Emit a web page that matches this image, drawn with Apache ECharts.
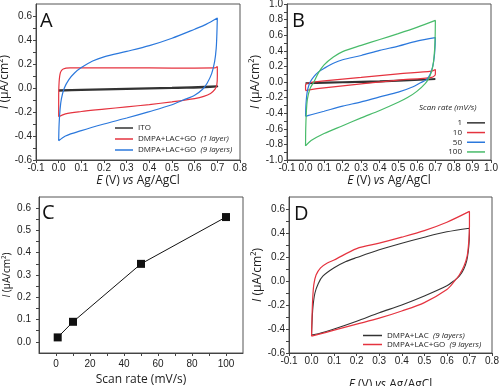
<!DOCTYPE html>
<html><head><meta charset="utf-8">
<script src="https://cdn.jsdelivr.net/npm/echarts@6/dist/echarts.min.js"></script>
<style>html,body{margin:0;padding:0;background:#fff}#c{width:500px;height:386px}</style>
</head><body><div id="c"></div>
<script>
// ---------- Panel A : CVs (current density vs potential) ----------
const A_ITO = [[0,-0.018],[0.1,-0.013],[0.3,-0.004],[0.5,0.004],[0.7,0.016],[0.7,0.009],[0.5,-0.002],[0.3,-0.01],[0.1,-0.018],[0,-0.024]];
const A_GO1 = [[0,-0.24],[0,-0.1],[0.002,0.05],[0.008,0.13],[0.02,0.158],[0.05,0.167],[0.2,0.168],[0.4,0.167],[0.6,0.166],[0.69,0.167],[0.7,0.18],
  [0.7,0.1],[0.698,0.03],[0.69,-0.01],[0.67,-0.045],[0.64,-0.07],[0.6,-0.088],[0.5,-0.115],[0.4,-0.138],[0.3,-0.157],[0.2,-0.176],[0.1,-0.196],[0.03,-0.215],[0,-0.24]];
const A_GO9 = [[0,-0.44],[0.002,-0.3],[0.006,-0.18],[0.012,-0.09],[0.025,0],[0.045,0.07],[0.07,0.125],[0.1,0.17],[0.15,0.225],[0.2,0.26],[0.3,0.305],[0.4,0.353],[0.5,0.415],[0.6,0.49],[0.65,0.53],[0.7,0.583],
  [0.698,0.45],[0.695,0.33],[0.688,0.22],[0.675,0.12],[0.655,0.04],[0.635,-0.01],[0.6,-0.06],[0.55,-0.1],[0.5,-0.14],[0.4,-0.197],[0.3,-0.25],[0.2,-0.3],[0.1,-0.355],[0.03,-0.4],[0,-0.44]];
const A_names = ['ITO', 'DMPA+LAC+GO (1 layer)', 'DMPA+LAC+GO (9 layers)'];

// ---------- Panel B : scan rates ----------
const B_rates = ['1', '10', '50', '100'];
const B_1 = [[0,-0.012],[0.2,0.0],[0.4,0.012],[0.7,0.035],[0.7,0.027],[0.4,0.004],[0.2,-0.007],[0,-0.02]];
const B_10 = [[0,-0.11],[0,-0.04],[0.02,-0.01],[0.1,0.015],[0.3,0.06],[0.5,0.105],[0.68,0.14],[0.7,0.16],
  [0.7,0.1],[0.68,0.06],[0.5,0.025],[0.3,-0.025],[0.1,-0.075],[0.02,-0.1],[0,-0.11]];
const B_50 = [[0,-0.44],[0.002,-0.3],[0.006,-0.18],[0.012,-0.09],[0.025,0],[0.045,0.07],[0.07,0.13],[0.1,0.175],[0.15,0.24],[0.2,0.285],[0.3,0.34],[0.4,0.405],[0.5,0.46],[0.6,0.525],[0.7,0.57],
  [0.698,0.44],[0.694,0.32],[0.686,0.2],[0.672,0.1],[0.652,0.03],[0.62,-0.01],[0.58,-0.06],[0.5,-0.13],[0.4,-0.19],[0.3,-0.255],[0.2,-0.31],[0.1,-0.375],[0.03,-0.42],[0,-0.44]];
const B_100 = [[0,-0.82],[0.001,-0.6],[0.004,-0.4],[0.01,-0.22],[0.025,-0.08],[0.045,0.0],[0.07,0.12],[0.1,0.22],[0.15,0.32],[0.2,0.39],[0.3,0.47],[0.4,0.545],[0.5,0.62],[0.6,0.7],[0.7,0.79],
  [0.699,0.6],[0.696,0.42],[0.69,0.26],[0.68,0.14],[0.665,0.05],[0.645,-0.02],[0.6,-0.12],[0.55,-0.2],[0.5,-0.26],[0.4,-0.365],[0.3,-0.46],[0.2,-0.56],[0.1,-0.66],[0.03,-0.75],[0,-0.82]];

// ---------- Panel C : peak current vs scan rate ----------
const C_scanRate = [1, 10, 50, 100];
const C_current = [0.02, 0.09, 0.35, 0.56];

// ---------- Panel D ----------
const D_LAC = [[0,-0.45],[0.002,-0.35],[0.006,-0.22],[0.015,-0.1],[0.03,-0.02],[0.05,0.04],[0.1,0.11],[0.15,0.16],[0.2,0.195],[0.3,0.26],[0.4,0.315],[0.5,0.365],[0.6,0.41],[0.7,0.44],
  [0.699,0.34],[0.695,0.25],[0.688,0.17],[0.675,0.1],[0.655,0.04],[0.63,0.0],[0.6,-0.04],[0.5,-0.125],[0.4,-0.2],[0.3,-0.265],[0.2,-0.335],[0.1,-0.4],[0.03,-0.44],[0,-0.45]];
const D_GO = [[0,-0.46],[0.002,-0.3],[0.005,-0.15],[0.01,-0.03],[0.02,0.05],[0.04,0.11],[0.07,0.15],[0.1,0.175],[0.2,0.27],[0.3,0.315],[0.4,0.365],[0.5,0.42],[0.6,0.49],[0.7,0.58],
  [0.7,0.45],[0.697,0.33],[0.69,0.21],[0.675,0.12],[0.655,0.05],[0.63,-0.01],[0.6,-0.07],[0.5,-0.18],[0.4,-0.25],[0.3,-0.31],[0.2,-0.36],[0.1,-0.41],[0.03,-0.445],[0,-0.46]];
const D_names = ['DMPA+LAC (9 layers)', 'DMPA+LAC+GO (9 layers)'];

// ---------- tick values ----------
const E_ticksA = [-0.1, 0, 0.1, 0.2, 0.3, 0.4, 0.5, 0.6, 0.7, 0.8];
const E_ticksB = [-0.1, 0, 0.1, 0.2, 0.3, 0.4, 0.5, 0.6, 0.7, 0.8, 0.9, 1.0];
const I_labelsAD = [-0.6, -0.4, -0.2, 0, 0.2, 0.4, 0.6];
const I_ticksAD = [-0.6, -0.5, -0.4, -0.3, -0.2, -0.1, 0, 0.1, 0.2, 0.3, 0.4, 0.5, 0.6];
const I_labelsB = [-1.0, -0.8, -0.6, -0.4, -0.2, 0, 0.2, 0.4, 0.6, 0.8, 1.0];
const I_ticksB = [-1.0, -0.9, -0.8, -0.7, -0.6, -0.5, -0.4, -0.3, -0.2, -0.1, 0, 0.1, 0.2, 0.3, 0.4, 0.5, 0.6, 0.7, 0.8, 0.9, 1.0];
const C_xLabels = [0, 20, 40, 60, 80, 100];
const C_xTicks = [0, 10, 20, 30, 40, 50, 60, 70, 80, 90, 100];
const C_yLabels = [0, 0.1, 0.2, 0.3, 0.4, 0.5, 0.6];
const C_yTicks = [0, 0.05, 0.1, 0.15, 0.2, 0.25, 0.3, 0.35, 0.4, 0.45, 0.5, 0.55, 0.6];

// ---------- styling ----------
const RED = '#e5333f', BLUE = '#2b78dc', GREEN = '#48bb6a', BLACK = '#333333';
const labelFont = 'Liberation Sans', textFont = 'Open Sans';

function legendLabel(s) {
  const m = s.match(/^(.*?) (\(.*\))$/);
  return m ? m[1] + '  {i|' + m[2] + '}' : s;
}
const labelMap = {
  A0: legendLabel(A_names[0]), A1: legendLabel(A_names[1]), A2: legendLabel(A_names[2]),
  B0: B_rates[0], B1: B_rates[1], B2: B_rates[2], B3: B_rates[3],
  D0: legendLabel(D_names[0]), D1: legendLabel(D_names[1])
};

const fmt1 = v => (Math.abs(v) < 1e-9 ? '0.0' : v.toFixed(1));
const axisLineStyle = { onZero: false, lineStyle: { color: '#444', width: 1 } };

function richName(fs) {
  return { fontSize: fs, fontFamily: textFont, color: '#222', rich: { i: { fontStyle: 'italic', fontSize: fs, fontFamily: textFont, color: '#222' } } };
}
function xAxisE(grid, max, gap, ticks) {
  return {
    gridIndex: grid, type: 'value', min: -0.1, max: max,
    name: '{i|E} (V) {i|vs} Ag/AgCl', nameLocation: 'middle', nameGap: gap, nameTextStyle: richName(12),
    axisLine: axisLineStyle,
    axisTick: { length: 3, lineStyle: { color: '#444' }, customValues: ticks },
    splitLine: { show: false },
    axisLabel: { fontSize: 10, fontFamily: labelFont, color: '#222', margin: 3, formatter: fmt1, customValues: ticks }
  };
}
function yAxisI(grid, min, max, gap, fs, labels, ticks) {
  return {
    gridIndex: grid, type: 'value', min: min, max: max,
    name: '{i|I} (μA/cm²)', nameLocation: 'middle', nameGap: gap, nameTextStyle: richName(fs),
    axisLine: axisLineStyle,
    axisTick: { length: 3, lineStyle: { color: '#444' }, customValues: ticks },
    splitLine: { show: false },
    axisLabel: { fontSize: 10, fontFamily: labelFont, color: '#222', margin: 4, formatter: fmt1, customValues: labels }
  };
}

function cv(name, data, color, xi, width) {
  return { name: name, type: 'line', xAxisIndex: xi, yAxisIndex: xi, data: data, showSymbol: false, symbol: 'none',
    lineStyle: { color: color, width: width || 1.2 }, itemStyle: { color: color }, smooth: 0.3, animation: false, z: 3 };
}

const legendText = { fontSize: 8, fontFamily: textFont, color: '#222', lineHeight: 10,
  rich: { i: { fontStyle: 'italic', fontSize: 8, fontFamily: textFont, color: '#222' } } };

const gridBase = { show: true, borderColor: '#555', borderWidth: 1, backgroundColor: 'transparent', containLabel: false, outerBoundsMode: 'none' };

const option = {
  animation: false,
  backgroundColor: '#fff',
  grid: [
    Object.assign({ left: 36, top: 4, width: 204, height: 156 }, gridBase),
    Object.assign({ left: 287, top: 4, width: 204, height: 156 }, gridBase),
    Object.assign({ left: 39, top: 197, width: 204, height: 156 }, gridBase),
    Object.assign({ left: 289, top: 197, width: 203, height: 156 }, gridBase)
  ],
  xAxis: [
    xAxisE(0, 0.8, 15, E_ticksA),
    xAxisE(1, 1.0, 15, E_ticksB),
    {
      gridIndex: 2, type: 'value', min: -10, max: 110,
      name: 'Scan rate (mV/s)', nameLocation: 'middle', nameGap: 21,
      nameTextStyle: { fontSize: 12, fontFamily: textFont, color: '#222' },
      axisLine: axisLineStyle,
      axisTick: { length: 3, lineStyle: { color: '#444' }, customValues: C_xTicks },
      splitLine: { show: false },
      axisLabel: { fontSize: 10, fontFamily: labelFont, color: '#222', margin: 6, customValues: C_xLabels, formatter: v => String(Math.round(v)) }
    },
    xAxisE(3, 0.8, 26, E_ticksA)
  ],
  yAxis: [
    yAxisI(0, -0.6, 0.7, 22, 12, I_labelsAD, I_ticksAD),
    yAxisI(1, -1.0, 1.0, 24, 12, I_labelsB, I_ticksB),
    {
      gridIndex: 2, type: 'value', min: -0.05, max: 0.65,
      name: '{i|I} (μA/cm²)', nameLocation: 'middle', nameGap: 27, nameTextStyle: richName(10),
      axisLine: axisLineStyle,
      axisTick: { length: 3, lineStyle: { color: '#444' }, customValues: C_yTicks },
      splitLine: { show: false },
      axisLabel: { fontSize: 10, fontFamily: labelFont, color: '#222', margin: 8, customValues: C_yLabels, formatter: fmt1 }
    },
    yAxisI(3, -0.6, 0.7, 23, 12, I_labelsAD, I_ticksAD)
  ],
  legend: [
    { left: 115, top: 123, orient: 'vertical', icon: 'rect', itemWidth: 18, itemHeight: 1.5, itemGap: 1, selectedMode: false,
      data: ['A0', 'A1', 'A2'], formatter: n => labelMap[n], textStyle: legendText, padding: 0 },
    { right: 15, top: 118, orient: 'vertical', align: 'right', icon: 'rect', itemWidth: 18, itemHeight: 1.5, itemGap: 0, selectedMode: false,
      data: ['B0', 'B1', 'B2', 'B3'], formatter: n => labelMap[n], textStyle: Object.assign({}, legendText, { lineHeight: 9.7 }), padding: 0 },
    { left: 363, top: 331, orient: 'vertical', icon: 'rect', itemWidth: 19, itemHeight: 1.5, itemGap: 0, selectedMode: false,
      data: ['D0', 'D1'], formatter: n => labelMap[n], textStyle: Object.assign({}, legendText, { lineHeight: 9 }), padding: 0 }
  ],
  graphic: [
    { type: 'text', left: 40, top: 11, style: { text: 'A', font: '20px "Open Sans"', fill: '#111' } },
    { type: 'text', left: 292, top: 11, style: { text: 'B', font: '20px "Open Sans"', fill: '#111' } },
    { type: 'text', left: 42, top: 203, style: { text: 'C', font: '20px "Open Sans"', fill: '#111' } },
    { type: 'text', left: 294, top: 204, style: { text: 'D', font: '20px "Open Sans"', fill: '#111' } },
    { type: 'text', left: 419, top: 104, style: { text: 'Scan rate (mV/s)', font: 'italic 8px "Open Sans"', fill: '#222' } }
  ],
  series: [
    cv('A0', A_ITO, BLACK, 0, 1.6),
    cv('A1', A_GO1, RED, 0),
    cv('A2', A_GO9, BLUE, 0),
    cv('B0', B_1, BLACK, 1, 1.6),
    cv('B1', B_10, RED, 1),
    cv('B2', B_50, BLUE, 1),
    cv('B3', B_100, GREEN, 1),
    { name: 'C', type: 'line', xAxisIndex: 2, yAxisIndex: 2, data: C_scanRate.map((x, i) => [x, C_current[i]]),
      symbol: 'rect', symbolSize: 8, lineStyle: { color: '#111', width: 1 }, itemStyle: { color: '#111' }, animation: false },
    cv('D0', D_LAC, BLACK, 3, 1.1),
    cv('D1', D_GO, RED, 3)
  ]
};
const chart = echarts.init(document.getElementById('c'), null, { renderer: 'canvas' });
chart.setOption(option);
</script></body></html>
